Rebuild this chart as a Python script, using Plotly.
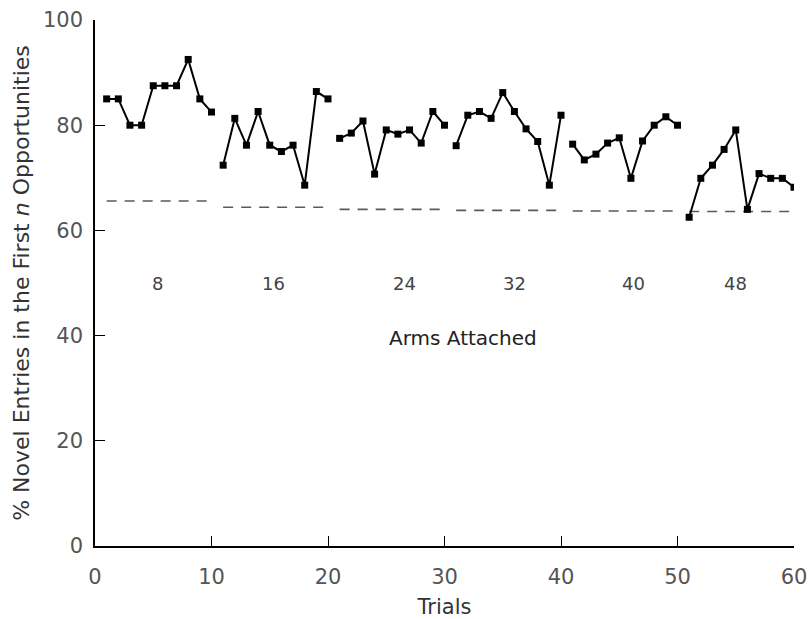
import plotly.graph_objects as go

# Trials 1..60, six blocks of ten trials
trials = list(range(1, 61))
pct_novel = [
    85.0, 85.0, 80.0, 80.0, 87.5, 87.5, 87.5, 92.5, 85.0, 82.5,   # 8 arms
    72.4, 81.3, 76.2, 82.6, 76.2, 75.0, 76.2, 68.6, 86.4, 85.0,   # 16 arms
    77.5, 78.5, 80.8, 70.7, 79.1, 78.3, 79.1, 76.6, 82.6, 80.0,   # 24 arms
    76.1, 81.9, 82.6, 81.3, 86.2, 82.6, 79.3, 76.9, 68.6, 81.9,   # 32 arms
    76.4, 73.4, 74.5, 76.6, 77.6, 69.9, 77.0, 80.0, 81.6, 80.0,   # 40 arms
    62.5, 69.9, 72.4, 75.4, 79.1, 64.0, 70.8, 69.9, 69.9, 68.2,   # 48 arms
]
arms = [8, 16, 24, 32, 40, 48]
chance = [65.6, 64.4, 64.0, 63.8, 63.7, 63.6]
arm_label_x = [5.4, 15.3, 26.6, 36.0, 46.2, 55.0]
arm_label_y = 50
block_size = 10

FONT = "DejaVu Sans"
TXT = "#333333"

fig = go.Figure()
for b in range(len(arms)):
    xs = trials[b * block_size:(b + 1) * block_size]
    ys = pct_novel[b * block_size:(b + 1) * block_size]
    fig.add_trace(go.Scatter(
        x=[xs[0], xs[-1]], y=[chance[b], chance[b]], mode="lines",
        line=dict(color="#5a5a5a", width=1.6, dash="10px,8px"),
        showlegend=False, hoverinfo="y"))
    fig.add_trace(go.Scatter(
        x=xs, y=ys, mode="lines+markers",
        line=dict(color="black", width=2),
        marker=dict(symbol="square", size=7, color="black"),
        showlegend=False, hoverinfo="x+y"))
    fig.add_annotation(x=arm_label_x[b], y=arm_label_y, text=str(arms[b]),
                       showarrow=False, font=dict(family=FONT, size=18, color="#444444"))

fig.add_annotation(x=31.6, y=39.5, text="Arms Attached", showarrow=False,
                   font=dict(family=FONT, size=20, color="#222222"))

fig.update_layout(
    width=809, height=619,
    margin=dict(l=95, r=15, t=20, b=73),
    paper_bgcolor="white", plot_bgcolor="white",
    font=dict(family=FONT, size=20, color=TXT),
)
fig.update_xaxes(
    range=[0, 60], tickvals=[0, 10, 20, 30, 40, 50, 60],
    showline=True, linecolor="black", linewidth=1.5,
    ticks="inside", ticklen=10, tickwidth=1.2, tickcolor="black",
    showgrid=False, zeroline=False, automargin=False,
    ticklabelstandoff=11,
    title=dict(text="Trials", font=dict(family=FONT, size=21, color=TXT), standoff=12),
    tickfont=dict(family=FONT, size=21, color="#555555"),
)
fig.update_yaxes(
    range=[0, 100], tickvals=[0, 20, 40, 60, 80, 100],
    showline=True, linecolor="black", linewidth=1.5,
    ticks="inside", ticklen=10, tickwidth=1.2, tickcolor="black",
    showgrid=False, zeroline=False, automargin=False,
    ticklabelstandoff=6,
    title=dict(text="% Novel Entries in the First <i>n</i> Opportunities",
               font=dict(family=FONT, size=22, color=TXT), standoff=7),
    tickfont=dict(family=FONT, size=21, color="#555555"),
)

fig.write_html("out.html")
